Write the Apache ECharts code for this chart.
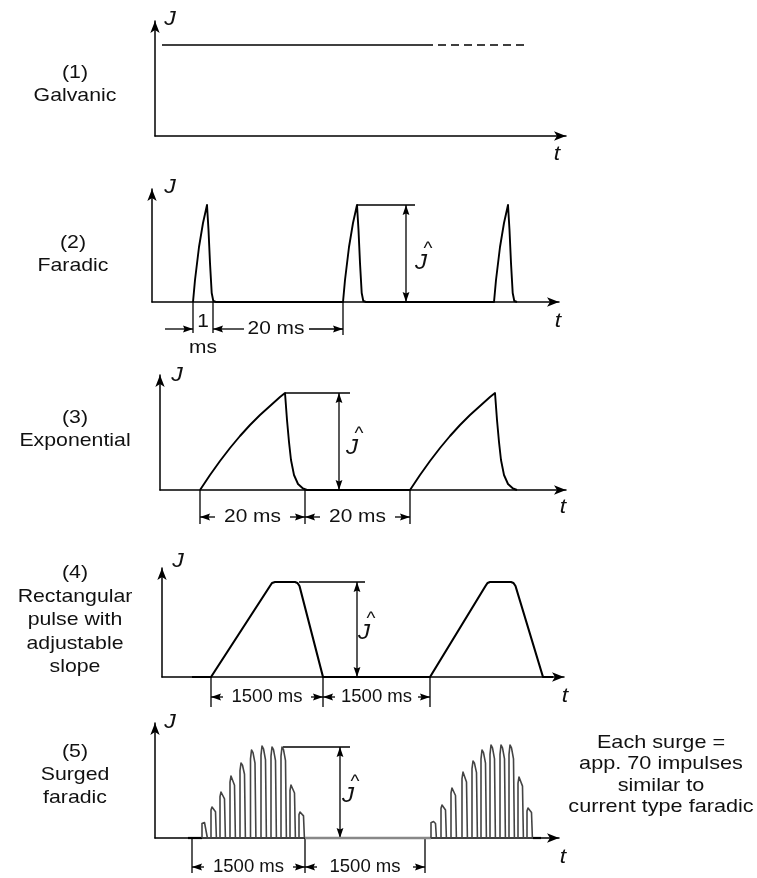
<!DOCTYPE html>
<html><head><meta charset="utf-8">
<script src="https://cdn.jsdelivr.net/npm/echarts@6/dist/echarts.min.js"></script>
<style>html,body{margin:0;padding:0;background:#fff}#c{width:757px;height:878px}</style>
</head><body><div id="c"></div>
<script>
// ---------- DATA (time in drawing units, J relative height) ----------
// (1) Galvanic
const galvanicSolid = [[7, 91], [270, 91]];
const galvanicDashed = [[270, 91], [370, 91]];
// (2) Faradic: three 1 ms impulses, 20 ms apart
const faradic = [
  [41, 0], [43, 22], [47, 55], [51, 79], [55, 97], [56.5, 72], [58, 39], [59.7, 9], [61.3, 1], [64, 0],
  [191, 0], [193, 22], [197, 55], [201, 79], [205, 97], [206.5, 72], [208, 39], [209.7, 9], [211.3, 1], [214, 0],
  [342, 0], [344, 22], [348, 55], [352, 79], [356, 97], [357.5, 72], [359, 39], [360.7, 9], [362.3, 1], [365, 0]
];
// (3) Exponential
const exponential = [
  [40, 0], [50, 15], [60, 29], [70, 42], [80, 54], [90, 65], [100, 75], [110, 84], [120, 93], [125, 97],
  [127, 70], [129, 48], [131, 30], [134, 15], [138, 6], [143, 1.5], [147, 0],
  [250, 0], [260, 15], [270, 29], [280, 42], [290, 54], [300, 65], [310, 75], [320, 84], [330, 93], [335, 97],
  [337, 70], [339, 48], [341, 30], [344, 15], [348, 6], [353, 1.5], [357, 0]
];
// (4) Rectangular pulse with adjustable slope
const rectangular = [
  [30, 0], [49, 0], [108, 91], [110, 94], [113, 95], [133, 95], [135.5, 94], [137.5, 91], [161, 0],
  [268, 0], [323.5, 91], [325.5, 94], [328, 95], [349, 95], [351.5, 94], [353.5, 91], [381, 0], [391, 0]
];
// (5) Surged faradic: impulse start times and peak heights
const surge1Starts = [47, 56, 65, 75, 85, 95.5, 106, 116, 126, 135, 144];
const surge1Heights = [16, 31, 46, 62, 75, 88, 92, 91, 91, 53, 26];
const surge2Starts = [276, 286, 296, 307, 317, 326, 335, 345, 354, 363, 372];
const surge2Heights = [17, 33, 50, 66, 77, 88, 93, 93, 93, 61, 30];
const surgeLead = [[33, 0], [47, 0]];
const surgeGap = [[150, 0], [276, 0]];
const surgeTail = [[378, 0], [386, 0]];

// annotation segments: [x1, y1, x2, y2, arrowAtStart, arrowAtEnd]
const notes2 = [
  [205, 97, 263, 97, 0, 0], [254, 97, 254, 0, 1, 1],
  [41, 0, 41, -31, 0, 0], [61, 0, 61, -31, 0, 0], [191, 0, 191, -33, 0, 0],
  [13, -27, 41, -27, 0, 1], [92, -27, 61, -27, 0, 1], [157, -27, 191, -27, 0, 1]
];
const notes3 = [
  [125, 97, 190, 97, 0, 0], [179, 97, 179, 0, 1, 1],
  [40, 0, 40, -34, 0, 0], [145, 0, 145, -34, 0, 0], [250, 0, 250, -34, 0, 0],
  [55, -27, 40, -27, 0, 1], [130, -27, 145, -27, 0, 1], [160, -27, 145, -27, 0, 1], [235, -27, 250, -27, 0, 1]
];
const notes4 = [
  [137, 95, 203, 95, 0, 0], [195, 95, 195, 0, 1, 1],
  [49, 0, 49, -30, 0, 0], [161, 0, 161, -30, 0, 0], [268, 0, 268, -30, 0, 0],
  [61, -20, 49, -20, 0, 1], [149, -20, 161, -20, 0, 1], [173, -20, 161, -20, 0, 1], [256, -20, 268, -20, 0, 1]
];
const notes5 = [
  [128, 91, 195, 91, 0, 0], [185, 91, 185, 0, 1, 1],
  [37, 0, 37, -35, 0, 0], [150, 0, 150, -35, 0, 0], [270, 0, 270, -35, 0, 0],
  [49, -29, 37, -29, 0, 1], [138, -29, 150, -29, 0, 1], [162, -29, 150, -29, 0, 1], [258, -29, 270, -29, 0, 1]
];
// annotation texts: [x, y, text, kind]
const labels2 = [[51, -20, '1', 'n'], [51, -46, 'ms', 'n'], [124, -27, '20 ms', 'n'], [276, 53, '^', 'h'], [269, 39, 'J', 'i']];
const labels3 = [[92.5, -27, '20 ms', 'n'], [197.5, -27, '20 ms', 'n'], [199, 56, '^', 'h'], [192, 42, 'J', 'i']];
const labels4 = [[105, -20, '1500 ms', 's'], [214.5, -20, '1500 ms', 's'], [209, 58, '^', 'h'], [202, 44, 'J', 'i']];
const labels5 = [[93.5, -29, '1500 ms', 's'], [210, -29, '1500 ms', 's'], [200, 56, '^', 'h'], [193, 42, 'J', 'i']];

const panelNames = ['(1)\nGalvanic', '(2)\nFaradic', '(3)\nExponential', '(4)\nRectangular\npulse with\nadjustable\nslope', '(5)\nSurged\nfaradic'];
const sideNote = 'Each surge =\napp. 70 impulses\nsimilar to\ncurrent type faradic';

// ---------- LAYOUT ----------
const FONT = 'Liberation Sans, Arial, Helvetica, sans-serif';
const SX = 1.12; // horizontal stretch of the reference lettering
const panels = [
  { ox: 155, oy: 136, tx: 572, ty: 15, lab: [75, 84, 23], J: [170, 19], t: [557, 154] },
  { ox: 152, oy: 302, tx: 565, ty: 183, lab: [73, 254, 23], J: [170, 187], t: [558, 321] },
  { ox: 160, oy: 490, tx: 572, ty: 369, lab: [75, 429, 23], J: [177, 375], t: [563, 507] },
  { ox: 162, oy: 677, tx: 570, ty: 562, lab: [75, 620, 23.5], J: [178, 561], t: [565, 696] },
  { ox: 155, oy: 838, tx: 565, ty: 717, lab: [75, 775, 23], J: [170, 722], t: [563, 857] }
];
const AH = 12; // axis arrow length

function pulseOutline(x, h) {
  return [[x, 0], [x, h * 0.9], [x + 1, h], [x + 2.5, h * 0.97], [x + 4.5, h * 0.85], [x + 5.4, 0]];
}
function buildSurge(starts, heights) {
  let out = [];
  starts.forEach((s, i) => { out = out.concat(pulseOutline(s, heights[i])); });
  return out;
}

const grids = [], xAxes = [], yAxes = [], series = [], graphics = [];
panels.forEach((p, i) => {
  const w = p.tx - p.ox - AH / 2, h = p.oy - p.ty - AH / 2;
  grids.push({ left: p.ox, top: p.ty + AH / 2, width: w, height: h });
  const axisLine = { show: true, symbol: ['none', 'arrow'], symbolSize: [7, AH], lineStyle: { color: '#000', width: 1.5 } };
  xAxes.push({ gridIndex: i, type: 'value', min: 0, max: w, axisLine, axisTick: { show: false }, axisLabel: { show: false }, splitLine: { show: false } });
  yAxes.push({ gridIndex: i, type: 'value', min: 0, max: h, axisLine, axisTick: { show: false }, axisLabel: { show: false }, splitLine: { show: false } });
  graphics.push({ type: 'text', x: p.lab[0], y: p.lab[1], scaleX: SX, style: { text: panelNames[i], font: '19px ' + FONT, fill: '#111', align: 'center', verticalAlign: 'middle', lineHeight: p.lab[2] } });
  graphics.push({ type: 'text', x: p.J[0], y: p.J[1], scaleX: 1.1, style: { text: 'J', font: 'italic 21px ' + FONT, fill: '#111', align: 'center', verticalAlign: 'middle' } });
  graphics.push({ type: 'text', x: p.t[0], y: p.t[1], scaleX: 1.1, style: { text: 't', font: 'italic 21px ' + FONT, fill: '#111', align: 'center', verticalAlign: 'middle' } });
});
graphics.push({ type: 'text', x: 661, y: 775, scaleX: 1.14, style: { text: sideNote, font: '19px ' + FONT, fill: '#111', align: 'center', verticalAlign: 'middle', lineHeight: 21.5 } });

function lineSeries(idx, data, style) {
  return { type: 'line', xAxisIndex: idx, yAxisIndex: idx, data, symbol: 'none', clip: false, silent: true, animation: false,
    lineStyle: Object.assign({ color: '#000', width: 1.9, join: 'round' }, style) };
}
series.push(lineSeries(0, galvanicSolid, { width: 1.6 }));
series.push(lineSeries(0, galvanicDashed, { width: 1.6, type: [8, 5] }));
series.push(lineSeries(1, faradic, {}));
series.push(lineSeries(2, exponential, {}));
series.push(lineSeries(3, rectangular, { width: 2.1 }));
series.push(lineSeries(4, surgeLead, { width: 2.2 }));
series.push(lineSeries(4, buildSurge(surge1Starts, surge1Heights), { width: 1.6, color: '#444' }));
series.push(lineSeries(4, surgeGap, { width: 2.4, color: '#888' }));
series.push(lineSeries(4, buildSurge(surge2Starts, surge2Heights), { width: 1.6, color: '#444' }));
series.push(lineSeries(4, surgeTail, { width: 2.2 }));

function arrowHead(from, to) {
  const dx = to[0] - from[0], dy = to[1] - from[1];
  const len = Math.hypot(dx, dy) || 1, ux = dx / len, uy = dy / len;
  const L = 10, W = 3.4;
  const bx = to[0] - ux * L, by = to[1] - uy * L;
  return { type: 'polygon', shape: { points: [[to[0], to[1]], [bx - uy * W, by + ux * W], [bx + ux * 1.5, by + uy * 1.5], [bx + uy * W, by - ux * W]] }, style: { fill: '#000' } };
}
function noteSeries(idx, list) {
  return { type: 'custom', xAxisIndex: idx, yAxisIndex: idx, silent: true, animation: false, clip: false,
    data: list.map(s => [s[0], s[1], s[2], s[3]]),
    encode: { x: [0, 2], y: [1, 3] },
    renderItem: function (params, api) {
      const s = list[params.dataIndex];
      const p1 = api.coord([api.value(0), api.value(1)]);
      const p2 = api.coord([api.value(2), api.value(3)]);
      const children = [{ type: 'line', shape: { x1: p1[0], y1: p1[1], x2: p2[0], y2: p2[1] }, style: { stroke: '#000', lineWidth: 1.3 } }];
      if (s[5]) children.push(arrowHead(p1, p2));
      if (s[4]) children.push(arrowHead(p2, p1));
      return { type: 'group', children };
    } };
}
const textFont = { n: '19px ' + FONT, s: '18px ' + FONT, h: '19px ' + FONT, i: 'italic 22px ' + FONT };
const textScale = { n: 1.1, s: 1.03, h: 1.0, i: 1.1 };
function labelSeries(idx, list) {
  return { type: 'custom', xAxisIndex: idx, yAxisIndex: idx, silent: true, animation: false, clip: false,
    data: list.map(s => [s[0], s[1]]),
    encode: { x: 0, y: 1 },
    renderItem: function (params, api) {
      const s = list[params.dataIndex];
      const p = api.coord([api.value(0), api.value(1)]);
      return { type: 'text', x: p[0], y: p[1], scaleX: textScale[s[3]], style: { text: s[2], font: textFont[s[3]], fill: '#111', align: 'center', verticalAlign: 'middle' } };
    } };
}
series.push(noteSeries(1, notes2), noteSeries(2, notes3), noteSeries(3, notes4), noteSeries(4, notes5));
series.push(labelSeries(1, labels2), labelSeries(2, labels3), labelSeries(3, labels4), labelSeries(4, labels5));

const chart = echarts.init(document.getElementById('c'), null, { renderer: 'canvas' });
chart.setOption({ backgroundColor: '#fff', animation: false, grid: grids, xAxis: xAxes, yAxis: yAxes, series, graphic: graphics });
</script></body></html>
